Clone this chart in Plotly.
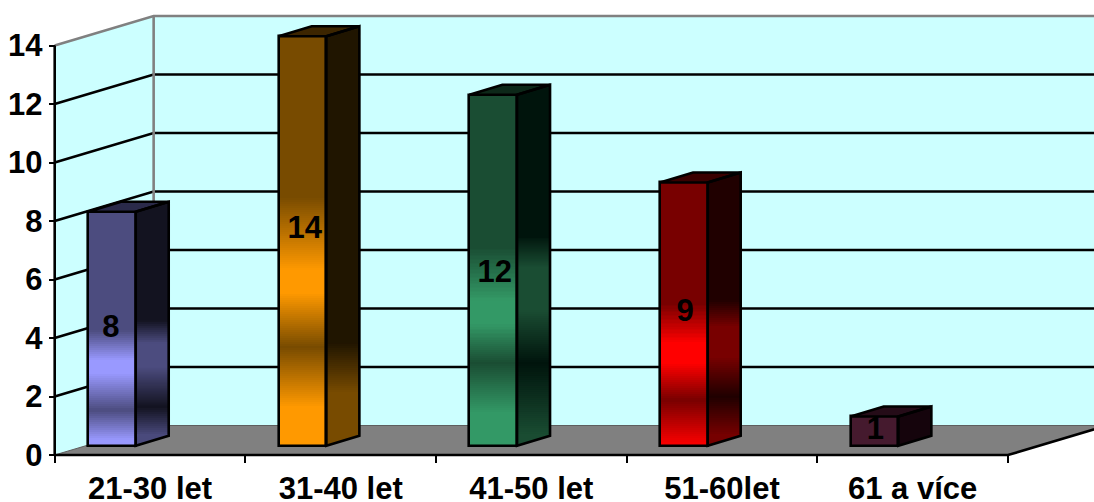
import plotly.graph_objects as go

# --- data ---
categories = ["21-30 let", "31-40 let", "41-50 let", "51-60let", "61 a více"]
values = [8, 14, 12, 9, 1]
y_ticks = [0, 2, 4, 6, 8, 10, 12, 14]
label_heights = [4.30, 7.68, 6.18, 4.84, 0.80]
label_shift = [-0.006, 0.012, 0.008, 0.006, 0.004]

# --- style ---
front_dark = ["#4C4C7F", "#784B00", "#1A4D33", "#780000", "#451A2E"]
front_bright = ["#9999FF", "#FF9900", "#339966", "#FF0000", "#451A2E"]
side_dark = ["#131320", "#201500", "#00140C", "#200000", "#15040C"]
top_faces = ["#2A2A4A", "#3C2500", "#0D2819", "#3A0000", "#250C18"]
# (fraction of height from the top, tone 0=dark 1=bright)
front_stops = [
    [(0, 0), (.506, 0), (.634, 1), (.689, 1), (.847, 0), (.975, 1), (1, 1)],
    [(0, 0), (.393, 0), (.571, 1), (.627, 1), (.759, 0), (.905, 1), (1, 1)],
    [(0, 0), (.435, 0), (.585, 1), (.651, 1), (.764, 0), (.906, 1), (1, 1)],
    [(0, 0), (.458, 0), (.61, 1), (.686, 1), (.826, 0), (1, 1)],
    [(0, 0), (1, 0)],
]
side_stops = [
    [(0, 0), (.506, 0), (.604, 1), (.706, 1), (.877, 0), (1, 1)],
    [(0, 0), (.773, 0), (.895, 1), (1, 1)],
    [(0, 0), (.437, 0), (.438, .1), (.52, 1), (.642, 1), (.793, 0), (1, 1)],
    [(0, 0), (.485, 0), (.587, 1), (.70, 1), (.852, 0), (1, 1)],
    [(0, 0), (1, 0)],
]
side_bright = front_dark
WALL = "#CCFFFF"
FLOOR = "#808080"
FONT = "Liberation Sans"

W, H = 1094, 502
PX_U, PX_V = 190.66, 29.25
X0, Y0 = 54.7, 455
DEPTH_U, DEPTH_V = 0.519, 1.0085
BAR_L, BAR_W = 0.175, 0.250
BAR_BASE = 0.318
SIDE_U, SIDE_V = 0.173, 0.342
LW = 2.6
N_CAT = len(categories)
TOP = y_ticks[-1]


def hex2rgb(c):
    return tuple(int(c[i:i + 2], 16) for i in (1, 3, 5))


def mix(a, b, t):
    ra, rb = hex2rgb(a), hex2rgb(b)
    return "#%02X%02X%02X" % tuple(round(p + (q - p) * t) for p, q in zip(ra, rb))


def tone(stops, f):
    for (f0, t0), (f1, t1) in zip(stops, stops[1:]):
        if f <= f1:
            return t0 + (t1 - t0) * (f - f0) / max(f1 - f0, 1e-9)
    return stops[-1][1]


def clip(poly, level, keep_above):
    out = []
    for (x1, y1), (x2, y2) in zip(poly, poly[1:] + poly[:1]):
        in1 = (y1 >= level) if keep_above else (y1 <= level)
        in2 = (y2 >= level) if keep_above else (y2 <= level)
        if in1:
            out.append((x1, y1))
        if in1 != in2:
            s = (level - y1) / (y2 - y1)
            out.append((x1 + (x2 - x1) * s, level))
    return out


def path(poly, closed=True):
    return "M" + "L".join(f"{x:.4f},{y:.4f}" for x, y in poly) + ("Z" if closed else "")


def poly_shape(poly, fill=None, line=None, width=0, layer="above", closed=True):
    return dict(type="path", xref="x", yref="y", path=path(poly, closed), layer=layer,
                fillcolor=fill or "rgba(0,0,0,0)",
                line=dict(color=line or "rgba(0,0,0,0)", width=width))


def under_line(points, color, width):
    return poly_shape(points, None, color, width, layer="below", closed=False)


shapes = [
    poly_shape([(0, 0), (0, TOP), (DEPTH_U, TOP + DEPTH_V), (DEPTH_U, DEPTH_V)], WALL, layer="below"),
    poly_shape([(DEPTH_U, DEPTH_V), (DEPTH_U, TOP + DEPTH_V), (N_CAT + 1, TOP + DEPTH_V),
                (N_CAT + 1, DEPTH_V)], WALL, layer="below"),
    poly_shape([(0, 0), (N_CAT, 0), (N_CAT + DEPTH_U, DEPTH_V), (DEPTH_U, DEPTH_V)], FLOOR, layer="below"),
]
for v in y_ticks[1:-1]:
    shapes.append(under_line([(0, v), (DEPTH_U, v + DEPTH_V), (N_CAT + 1, v + DEPTH_V)], "#000000", LW))
shapes.append(under_line([(0, TOP), (DEPTH_U, TOP + DEPTH_V), (N_CAT + 1, TOP + DEPTH_V)], FLOOR, LW))
shapes.append(under_line([(DEPTH_U, DEPTH_V), (DEPTH_U, TOP + DEPTH_V)], FLOOR, LW))
shapes.append(under_line([(0, 0), (DEPTH_U, DEPTH_V), (N_CAT + 1, DEPTH_V)], "#5E5E5E", 1))
shapes.append(under_line([(0, 0), (0, TOP)], "#000000", LW))
shapes.append(under_line([(0, 0), (N_CAT, 0), (N_CAT + DEPTH_U, DEPTH_V)], "#000000", LW))

fig = go.Figure()

# bars
for i, val in enumerate(values):
    left = i + BAR_L
    right = left + BAR_W
    n = max(1, round(val * PX_V / 2))
    step = val / n
    centre = left + BAR_W / 2
    fs = front_stops[i]
    colors = [mix(front_dark[i], front_bright[i], tone(fs, 1 - (k + .5) / n)) for k in range(n)]
    fig.add_trace(go.Bar(x=[centre] * n, y=[step] * n, base=[BAR_BASE + k * step for k in range(n)],
                         width=BAR_W, marker=dict(color=colors, line=dict(width=0)),
                         hoverinfo="skip", showlegend=False))
    fig.add_trace(go.Bar(x=[centre], y=[val], base=[BAR_BASE], width=BAR_W,
                         marker=dict(color="rgba(0,0,0,0)", line=dict(color="#000000", width=LW)),
                         hoverinfo="skip", showlegend=False))

    b, t = BAR_BASE, BAR_BASE + val
    side = [(right, b), (right + SIDE_U, b + SIDE_V), (right + SIDE_U, t + SIDE_V), (right, t)]
    ss = side_stops[i]
    prev_col = None
    overlap = 0.03
    segs = []
    for k in range(n):
        f0 = k / n
        col = mix(side_dark[i], side_bright[i], tone(ss, (k + .5) / n))
        if col != prev_col:
            segs.append([t + SIDE_V - val * f0, col])
            prev_col = col
    for j, (hi, col) in enumerate(segs):
        lo = segs[j + 1][0] - overlap if j + 1 < len(segs) else b - 1
        poly = clip(clip(side, hi, False), lo, True)
        if len(poly) >= 3:
            shapes.append(poly_shape(poly, col))
    shapes.append(poly_shape([(left, t), (right, t), (right + SIDE_U, t + SIDE_V), (left + SIDE_U, t + SIDE_V)],
                             top_faces[i], "#000000", LW))
    shapes.append(poly_shape(side, None, "#000000", LW))

# data labels
fig.add_trace(go.Scatter(
    x=[i + BAR_L + BAR_W / 2 + label_shift[i] for i in range(N_CAT)], y=label_heights,
    mode="text", text=[str(v) for v in values],
    textfont=dict(family=FONT, size=31, color="#000000", weight="bold"), textposition="middle center",
    hoverinfo="skip", showlegend=False))

fig.update_layout(
    width=W, height=H, margin=dict(l=0, r=0, t=0, b=0, autoexpand=False),
    paper_bgcolor="#FFFFFF", plot_bgcolor="#FFFFFF",
    barmode="overlay", bargap=0, showlegend=False, shapes=shapes,
    font=dict(family=FONT, color="#000000"),
    xaxis=dict(range=[-X0 / PX_U, (W - X0) / PX_U], domain=[0, 1], anchor="free", position=(H - Y0) / H,
               automargin=False, showgrid=False, zeroline=False, showline=False,
               tickmode="array", tickvals=[i + .5 for i in range(N_CAT)], ticktext=categories,
               ticks="", ticklabelstandoff=12,
               tickfont=dict(family=FONT, size=31, color="#000000", weight="bold"),
               minor=dict(tickmode="array", tickvals=list(range(N_CAT + 1)), ticks="outside",
                          ticklen=7, tickwidth=2, tickcolor="#000000", showgrid=False)),
    yaxis=dict(range=[-(H - Y0) / PX_V, Y0 / PX_V], domain=[0, 1], anchor="free", position=X0 / W,
               automargin=False, showgrid=False, zeroline=False, showline=False,
               tickmode="array", tickvals=y_ticks, ticks="outside", ticklen=6, tickwidth=2,
               tickcolor="#000000",
               tickfont=dict(family=FONT, size=31, color="#000000", weight="bold")),
)

fig.write_html("out.html", config={"displayModeBar": False},
               post_script="document.body.style.margin='0';document.documentElement.style.overflow='hidden';")
